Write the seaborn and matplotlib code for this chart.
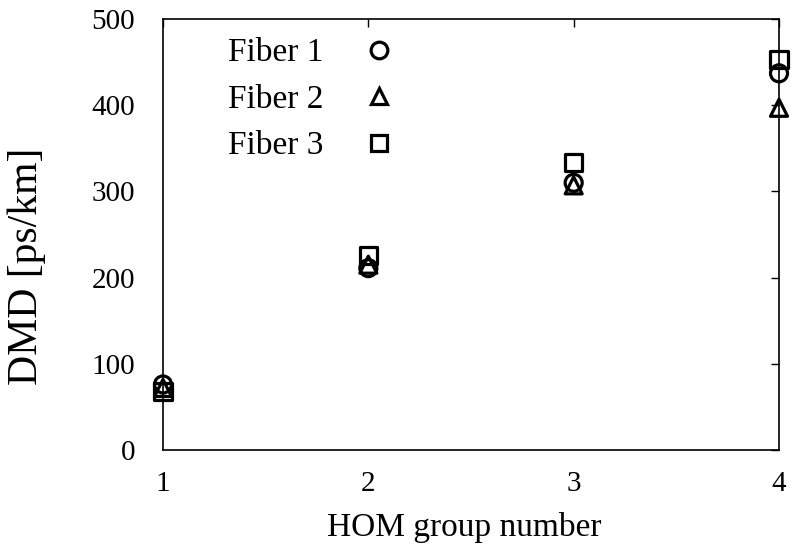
import matplotlib
matplotlib.use("Agg")
import matplotlib.pyplot as plt
import seaborn as sns
import pandas as pd
from matplotlib.lines import Line2D

hom_group = [1, 2, 3, 4]
fiber1 = [76, 211, 310, 437]
fiber2 = [72, 215, 307, 397]
fiber3 = [68, 226, 334, 453]
series_names = ["Fiber 1", "Fiber 2", "Fiber 3"]
series_markers = ["o", "^", "s"]
x_ticks = [1, 2, 3, 4]
y_ticks = [0, 100, 200, 300, 400, 500]

sns.set_theme(style="white")
plt.rcParams["font.family"] = ["Liberation Serif", "DejaVu Serif"]
plt.rcParams["text.color"] = "black"

df = pd.DataFrame({
    "HOM": hom_group * 3,
    "DMD": fiber1 + fiber2 + fiber3,
    "fiber": sum([[n] * len(hom_group) for n in series_names], []),
})

fig = plt.figure(figsize=(7.95, 5.6), dpi=100)
ax = fig.add_axes([163 / 795, 1 - 450 / 560, (779 - 163) / 795, (450 - 19) / 560])

for name, mk in zip(series_names, series_markers):
    sub = df[df["fiber"] == name]
    sns.scatterplot(data=sub, x="HOM", y="DMD", marker=mk, s=150,
                    facecolors="none", edgecolor="black", linewidth=2.3,
                    ax=ax, clip_on=False, zorder=5, legend=False)

ax.set_xlim(1, 4)
ax.set_ylim(0, 500)
ax.set_xticks(x_ticks)
ax.set_yticks(y_ticks)
ax.set_xticklabels([str(v) for v in x_ticks])
ax.set_yticklabels([str(v) for v in y_ticks])
ax.tick_params(direction="in", length=6, width=1, colors="black",
               top=True, right=True, labelsize=21)
ax.tick_params(axis="x", pad=15)
ax.tick_params(axis="y", pad=20)
for sp in ax.spines.values():
    sp.set_color("black")
    sp.set_linewidth(1.2)
    sp.set_visible(True)

ax.set_xlabel("HOM group number", fontsize=24, color="black")
ax.set_ylabel("DMD [ps/km]", fontsize=30, color="black")
ax.xaxis.set_label_coords(0.489, -0.143)
ax.yaxis.set_label_coords(-0.19, 0.427)

handles = [Line2D([], [], linestyle="none", marker=mk, markersize=12,
                  markerfacecolor="none", markeredgecolor="black",
                  markeredgewidth=2.3) for mk in series_markers]
leg = ax.legend(handles, series_names, loc="upper left",
                bbox_to_anchor=((228 - 163) / 616, 0.956), frameon=False,
                markerfirst=False, fontsize=24, labelspacing=0.48,
                handlelength=1.0, handletextpad=1.16,
                borderpad=0, borderaxespad=0)
for t in leg.get_texts():
    t.set_color("black")

fig.savefig("out.png", dpi=100)
